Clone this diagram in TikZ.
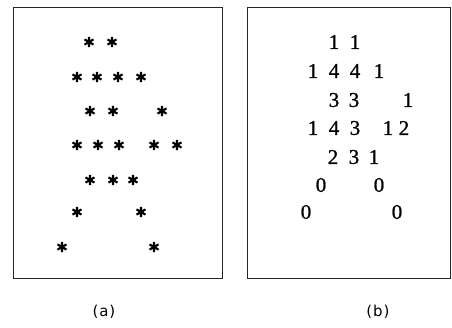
\documentclass[tikz,border=0pt]{standalone}
\usepackage{fontspec}
\setmainfont{Liberation Serif}
\newfontfamily\numfont[FakeBold=1]{Liberation Serif}
\newfontfamily\labfont[LetterSpace=6]{DejaVu Sans}
\begin{document}
\begin{tikzpicture}[x=1pt,y=-1pt,
  frame/.style={draw=black!85,line width=0.8pt},
  num/.style={inner sep=0pt,anchor=center,font=\numfont\fontsize{21}{21}\selectfont},
  captext/.style={inner sep=0pt,anchor=center,font=\labfont\fontsize{15}{15}\selectfont},
  star/.pic={\draw[line width=2.1pt] (0,-5.2) -- (0,5.2) (-4.5,-2.6) -- (4.5,2.6) (-4.5,2.6) -- (4.5,-2.6);}]
\useasboundingbox (0,0) rectangle (452,327);
% frames
\draw[frame] (13,7) rectangle (222,278);
\draw[frame] (247,7) rectangle (450,278);
% stars (a)
\foreach \x/\y in {89/42,112/42,
  77/77,97/77,118/77,141/77,
  90/111,113/111,162/111,
  77/145,98/145,119/145,154/145,177/145,
  90/180,113/180,133/180,
  77/212,141/212,
  62/247,154/247}
  \pic at (\x,\y) {star};
% numbers (b)
\node[num] (r1a) at (334,42) {1};
\node[num] (r1b) at (355,42) {1};
\node[num] (r2a) at (313,71) {1};
\node[num] (r2b) at (334,71) {4};
\node[num] (r2c) at (355,71) {4};
\node[num] (r2d) at (379,71) {1};
\node[num] (r3a) at (334,100) {3};
\node[num] (r3b) at (354,100) {3};
\node[num] (r3c) at (408,100) {1};
\node[num] (r4a) at (313,128) {1};
\node[num] (r4b) at (334,128) {4};
\node[num] (r4c) at (355,128) {3};
\node[num] (r4d) at (388,128) {1};
\node[num] (r4e) at (404,128) {2};
\node[num] (r5a) at (333,157) {2};
\node[num] (r5b) at (354,157) {3};
\node[num] (r5c) at (374,157) {1};
\node[num] (r6a) at (321,185) {0};
\node[num] (r6b) at (379,185) {0};
\node[num] (r7a) at (306,212) {0};
\node[num] (r7b) at (397,212) {0};
% captions
\node[captext] (capa) at (104,312) {(a)};
\node[captext] (capb) at (378,312) {(b)};
\end{tikzpicture}
\end{document}
